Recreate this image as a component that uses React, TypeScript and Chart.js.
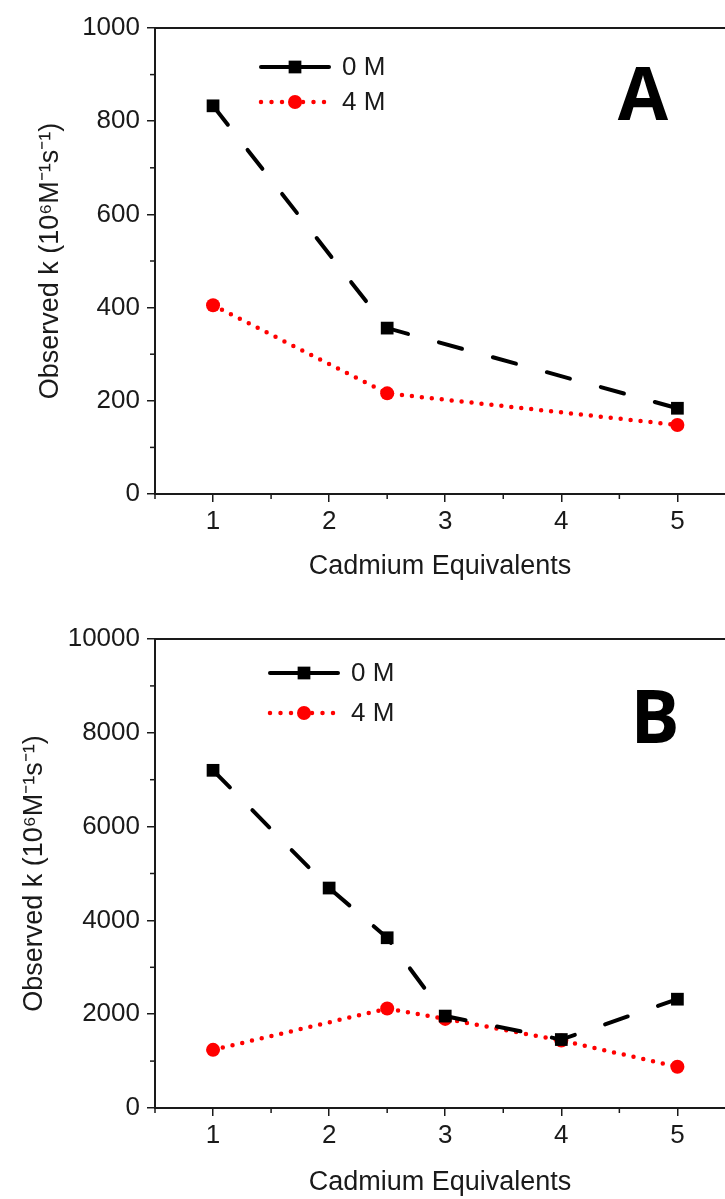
import React, { useEffect, useRef } from "react";
import { Chart, registerables } from "chart.js";

Chart.register(...registerables);

// ---------- data ----------
const seriesLabels = ["0 M", "4 M"];
const xTitle = "Cadmium Equivalents";
const yTitle = "Observed k (10⁶M⁻¹s⁻¹)";
const xTicks = [1, 2, 3, 4, 5];
const xMinorTicks = [0.5, 1.5, 2.5, 3.5, 4.5];

// Panel A
const aX0M = [1, 2.5, 5];
const aY0M = [833, 356, 184];
const aX4M = [1, 2.5, 5];
const aY4M = [405, 216, 148];
const aYTicks = [0, 200, 400, 600, 800, 1000];
const aYMinorTicks = [100, 300, 500, 700, 900];

// Panel B
const bX0M = [1, 2, 2.5, 3, 4, 5];
const bY0M = [7200, 4690, 3630, 1960, 1460, 2320];
const bX4M = [1, 2.5, 3, 4, 5];
const bY4M = [1240, 2120, 1900, 1440, 880];
const bYTicks = [0, 2000, 4000, 6000, 8000, 10000];
const bYMinorTicks = [1000, 3000, 5000, 7000, 9000];

// ---------- style ----------
const FONT = '"Liberation Sans", Arial, sans-serif';
const INK = "#1a1a1a";
const RED = "#ff0000";

const decorPlugin = {
  id: "decor",
  afterDraw(chart: any, _args: any, opts: any) {
    const { ctx, chartArea: ca, scales } = chart;
    const xs = scales.x;
    const ys = scales.y;
    ctx.save();
    // top frame line
    ctx.strokeStyle = INK;
    ctx.lineWidth = 2;
    ctx.beginPath();
    ctx.moveTo(ca.left, ca.top);
    ctx.lineTo(ca.right, ca.top);
    ctx.stroke();
    // minor ticks
    ctx.lineWidth = 1.5;
    (opts.xMinor || []).forEach((v: number) => {
      const px = xs.getPixelForValue(v);
      ctx.beginPath();
      ctx.moveTo(px, ca.bottom);
      ctx.lineTo(px, ca.bottom + 5);
      ctx.stroke();
    });
    (opts.yMinor || []).forEach((v: number) => {
      const py = ys.getPixelForValue(v);
      ctx.beginPath();
      ctx.moveTo(ca.left - 5, py);
      ctx.lineTo(ca.left, py);
      ctx.stroke();
    });
    // legend
    chart.data.datasets.forEach((ds: any, i: number) => {
      const lx = ca.left + opts.legendLeft;
      const ly = ca.top + opts.legendTop + i * opts.legendGap;
      const len = 68;
      ctx.save();
      ctx.strokeStyle = ds.borderColor;
      ctx.lineWidth = ds.borderWidth;
      ctx.lineCap = ds.borderCapStyle;
      ctx.setLineDash(ds.legendDash);
      ctx.beginPath();
      ctx.moveTo(lx, ly);
      ctx.lineTo(lx + len, ly);
      ctx.stroke();
      ctx.setLineDash([]);
      ctx.fillStyle = ds.pointBackgroundColor;
      const cx = lx + len / 2;
      if (ds.pointStyle === "rect") {
        const s = Math.SQRT1_2 * ds.pointRadius;
        ctx.fillRect(cx - s, ly - s, 2 * s, 2 * s);
      } else {
        ctx.beginPath();
        ctx.arc(cx, ly, ds.pointRadius, 0, Math.PI * 2);
        ctx.fill();
      }
      ctx.fillStyle = INK;
      ctx.font = `26px ${FONT}`;
      ctx.textBaseline = "middle";
      ctx.textAlign = "left";
      ctx.fillText(ds.label, lx + len + 13, ly + 1);
      ctx.restore();
    });
    // panel letter
    ctx.fillStyle = "#000";
    ctx.font = `bold 73px "Open Sans", sans-serif`;
    ctx.textAlign = "center";
    ctx.textBaseline = "alphabetic";
    ctx.fillText(opts.letter, ca.right + opts.letterDx, ca.top + opts.letterDy);
    ctx.restore();
  },
};

function makeConfig(p: any) {
  const pts = (xs: number[], ys: number[]) => xs.map((x, i) => ({ x, y: ys[i] }));
  return {
    type: "line",
    data: {
      datasets: [
        {
          label: seriesLabels[0],
          data: pts(p.x0, p.y0),
          borderColor: "#000",
          borderWidth: 4,
          borderDash: [24, 32],
          borderCapStyle: "round",
          legendDash: [],
          pointStyle: "rect",
          pointRadius: 9,
          pointBackgroundColor: "#000",
          pointBorderWidth: 0,
          tension: 0,
        },
        {
          label: seriesLabels[1],
          data: pts(p.x4, p.y4),
          borderColor: RED,
          borderWidth: 4.5,
          borderDash: [0, 10],
          borderCapStyle: "round",
          legendDash: [0, 10.5],
          pointStyle: "circle",
          pointRadius: 7,
          pointBackgroundColor: RED,
          pointBorderWidth: 0,
          tension: 0,
        },
      ],
    },
    options: {
      responsive: false,
      animation: false,
      events: [],
      layout: { autoPadding: false, padding: { top: p.padTop, right: 0, left: 0, bottom: 0 } },
      plugins: {
        legend: { display: false },
        tooltip: { enabled: false },
        decor: {
          xMinor: xMinorTicks,
          yMinor: p.yMinor,
          legendLeft: p.legendLeft,
          legendTop: p.legendTop,
          legendGap: p.legendGap,
          letter: p.letter,
          letterDx: p.letterDx,
          letterDy: p.letterDy,
        },
      },
      scales: {
        x: {
          type: "linear",
          min: 0.5,
          max: 5.41,
          afterBuildTicks: (s: any) => {
            s.ticks = xTicks.map((v) => ({ value: v }));
          },
          afterFit: (s: any) => {
            s.height = p.xAxisHeight;
          },
          grid: { drawOnChartArea: false, drawTicks: true, tickLength: 8, color: INK, lineWidth: 1.5 },
          border: { display: true, color: INK, width: 2 },
          ticks: {
            color: INK,
            font: { family: FONT, size: 26 },
            padding: 4,
            maxRotation: 0,
            callback: (v: any) => String(v),
          },
          title: {
            display: true,
            text: xTitle,
            color: INK,
            font: { family: FONT, size: 27 },
            padding: { top: 0, bottom: p.xTitleBottom },
          },
        },
        y: {
          type: "linear",
          min: 0,
          max: p.yMax,
          afterBuildTicks: (s: any) => {
            s.ticks = p.yTicks.map((v: number) => ({ value: v }));
          },
          afterFit: (s: any) => {
            s.width = 155;
          },
          grid: { drawOnChartArea: false, drawTicks: true, tickLength: 8, color: INK, lineWidth: 1.5 },
          border: { display: true, color: INK, width: 2 },
          ticks: {
            color: INK,
            font: { family: FONT, size: 26 },
            padding: 7,
            callback: (v: any) => String(v),
          },
          title: {
            display: true,
            text: yTitle,
            color: INK,
            font: { family: FONT, size: 27 },
            padding: { top: p.yTitleLeft, bottom: 0 },
          },
        },
      },
    },
    plugins: [decorPlugin],
  };
}

function Panel({ params, height }: { params: any; height: number }) {
  const ref = useRef<HTMLCanvasElement>(null);
  useEffect(() => {
    if (!ref.current) return;
    const chart = new Chart(ref.current, makeConfig(params) as any);
    return () => chart.destroy();
  }, []);
  return (
    <div style={{ width: 725, height, overflow: "hidden" }}>
      <canvas ref={ref} width={725} height={height} style={{ display: "block" }} />
    </div>
  );
}

const panelA = {
  x0: aX0M, y0: aY0M, x4: aX4M, y4: aY4M,
  yTicks: aYTicks, yMinor: aYMinorTicks, yMax: 1000,
  padTop: 28, xAxisHeight: 106, xTitleBottom: 17, yTitleLeft: 34,
  legendLeft: 106, legendTop: 39, legendGap: 35,
  letter: "A", letterDx: -82, letterDy: 92,
};

const panelB = {
  x0: bX0M, y0: bY0M, x4: bX4M, y4: bY4M,
  yTicks: bYTicks, yMinor: bYMinorTicks, yMax: 10000,
  padTop: 39, xAxisHeight: 91, xTitleBottom: 0, yTitleLeft: 18,
  legendLeft: 115, legendTop: 34, legendGap: 40,
  letter: "B", letterDx: -70, letterDy: 104,
};

export default function App() {
  useEffect(() => {
    document.body.style.margin = "0";
    document.body.style.background = "#fff";
  }, []);
  return (
    <div style={{ width: 725, background: "#fff" }}>
      <Panel params={panelA} height={600} />
      <Panel params={panelB} height={599} />
    </div>
  );
}
